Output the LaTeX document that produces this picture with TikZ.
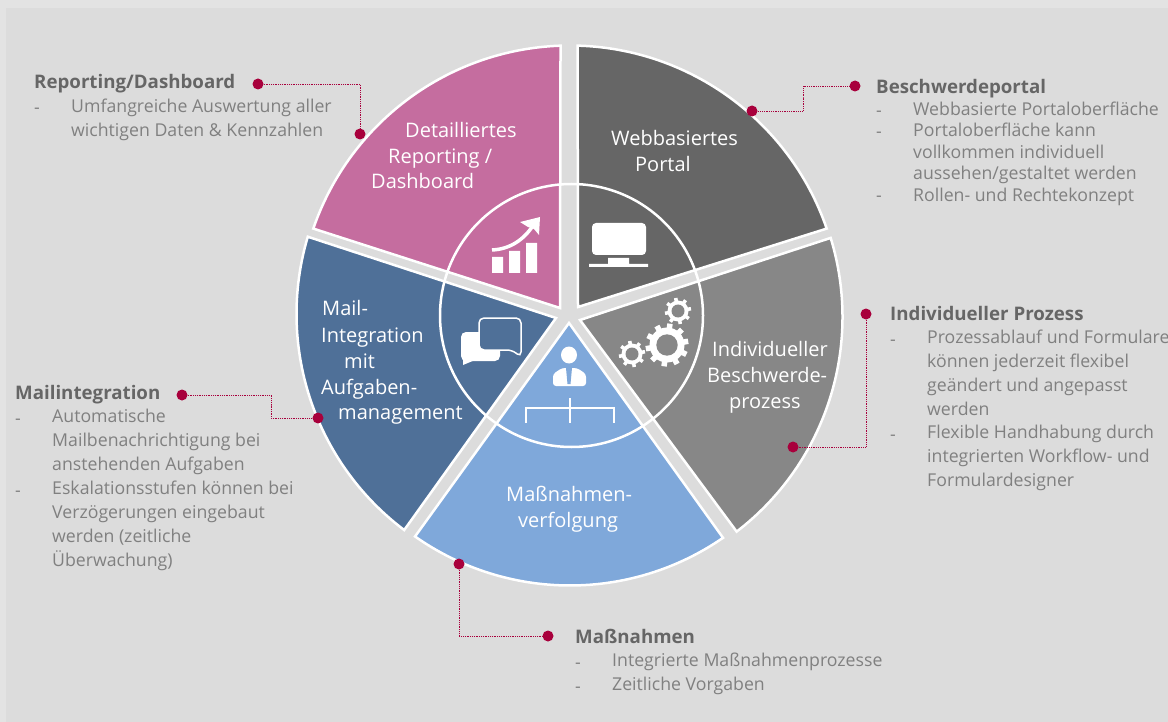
\documentclass[tikz,border=0pt]{standalone}
\usepackage{fontspec}
\setmainfont{Open Sans}
\definecolor{fondo}{HTML}{DCDCDC}
\definecolor{rand}{HTML}{E3E3E3}
\definecolor{rosa}{HTML}{C56D9F}
\definecolor{dunkel}{HTML}{666666}
\definecolor{mittel}{HTML}{878787}
\definecolor{blau}{HTML}{4F7098}
\definecolor{hell}{HTML}{7FA8DA}
\definecolor{rot}{HTML}{A8003C}
\tikzset{
	sektor/.style={draw=white,line width=2.5pt,line join=miter},
	wlabel/.style={anchor=base west,inner sep=0,text=white,font=\fontsize{20}{22}\selectfont},
	titel/.style={anchor=base west,inner sep=0,text=dunkel,font=\fontsize{18.7}{22}\selectfont\bfseries},
	strich/.style={anchor=base west,inner sep=0,text=black!50,font=\fontsize{17.7}{22}\selectfont},
	eintrag/.style={anchor=north west,inner sep=0,align=left,text=black!50,font=\fontsize{17.7}{24}\selectfont},
	punkt/.style={circle,fill=rot,inner sep=0,minimum size=11pt},
	leitung/.style={densely dotted,draw=rot,line width=.8pt},
}
\newcommand{\zahnrad}[6]{
	\foreach \w in {0,#6,...,359}
	\draw [white,line width=#5,shift={(#1)},y=1pt] (\w+10:#2-1)--(\w+10:#3);
	\fill [white] (#1)circle(#2);
	\fill [mittel] (#1)circle(#4);
}
\begin{document}
\begin{tikzpicture}[x=1pt,y=-1pt]
	\useasboundingbox (0,0) rectangle (1168,722);
	\fill [rand] (0,0) rectangle (1168,722);
	\fill [fondo] (6,8) rectangle (1168,722);
	\begin{scope}[shift={(570,316)},y=1pt]
	\filldraw [sektor,fill=rosa] (-10,8)--([shift={(0,-1)}]161:271.5) arc[start angle=161,end angle=92,radius=271.5]--cycle;
	\filldraw [sektor,fill=dunkel] (8,9)--([shift={(0,-1)}]88.4:271.5) arc[start angle=88.4,end angle=19,radius=271.5]--cycle;
	\filldraw [sektor,fill=mittel] (10,-4)--([shift={(2,-1)}]17:270.5) arc[start angle=17,end angle=-52.5,radius=270.5]--cycle;
	\filldraw [sektor,fill=hell] (-1,-7)--(234.9:269.5) arc[start angle=234.9,end angle=304.6,radius=269.5]--cycle;
	\filldraw [sektor,fill=blau] (-14,-2)--([shift={(-3,2)}]233:270.5) arc[start angle=233,end angle=163.4,radius=270.5]--cycle;
	\draw [white,line width=2.5pt] (1.5,.5)circle(131.5);
	\end{scope}
	\node [wlabel] (det1) at (405,138) {Detailliertes};
	\node [wlabel] (det2) at (388,164) {Reporting /};
	\node [wlabel] (det3) at (371,189) {Dashboard};
	\node [wlabel] (web1) at (611,146) {Webbasiertes};
	\node [wlabel] (web2) at (635,172) {Portal};
	\node [wlabel] (ind1) at (712,356) {Individueller};
	\node [wlabel] (ind2) at (707,382) {Beschwerde-};
	\node [wlabel] (ind3) at (729,408) {prozess};
	\node [wlabel] (mas1) at (506,501) {Maßnahmen-};
	\node [wlabel] (mas2) at (518,527) {verfolgung};
	\node [wlabel] (mai1) at (322,316) {Mail-};
	\node [wlabel] (mai2) at (321,342) {Integration};
	\node [wlabel] (mai3) at (344,368) {mit};
	\node [wlabel] (mai4) at (321,394) {Aufgaben-};
	\node [wlabel] (mai5) at (338,419) {management};
	\fill [white] (492,257) rectangle (503,273) (509,251) rectangle (520,273) (526,243) rectangle (537,273);
	\draw [white,line width=3.5pt] (492,250) .. controls (512,249) and (526,238) .. (536,221);
	\fill [white] (540,217)--(520,222)--(528,227)--(534,229)--(539,235)--cycle;
	\fill [white,rounded corners=4pt] (592,223) rectangle (646,255);
	\fill [white] (608,258) rectangle (629,264) (589,264) rectangle (648,267);
	\zahnrad{667,345}{17.5}{21.5}{10.7}{5.5pt}{36}
	\zahnrad{678,311}{10.5}{13.2}{6.5}{3.5pt}{45}
	\zahnrad{632,354}{10.5}{13.2}{6.5}{3.5pt}{45}
	\fill [white,rounded corners=5pt] (461,332) rectangle (500,361);
	\fill [white] (463,358)--(463,365)--(475,360)--cycle;
	\filldraw [draw=white,fill=blau,line width=1.5pt,rounded corners=5pt] (479,318)--(521,318)--(521,357)--(512,350)--(479,350)--cycle;
	\fill [white] (569,355) ellipse[x radius=8,y radius=8.5];
	\fill [white,rounded corners=3pt] (553,386)--(553,374)--(562,368)--(577,368)--(586,374)--(586,386)--cycle;
	\fill [hell] (566,368)--(572,368)--(570.5,384)--(567.5,384)--cycle;
	\draw [white,line width=2.5pt] (526,423)--(526,408)--(614,408)--(614,423) (570,398)--(570,423);
	\node [titel] (reptit) at (34,89) {Reporting/Dashboard};
	\node [strich] (repstr) at (34,114) {-};
	\node [eintrag] (reptxt) at (71,99) {Umfangreiche Auswertung aller\\wichtigen Daten \& Kennzahlen};
	\node [titel] (beschtit) at (876,94) {Beschwerdeportal};
	\node [strich] (beschstr1) at (876,117) {-};
	\node [eintrag] (beschtxt1) at (913,102) {Webbasierte Portaloberfläche};
	\node [strich] (beschstr2) at (876,138) {-};
	\node [eintrag,font=\fontsize{17.7}{21.5}\selectfont] (beschtxt2) at (913,123) {Portaloberfläche kann\\vollkommen individuell\\aussehen/gestaltet werden};
	\node [strich] (beschstr3) at (876,202) {-};
	\node [eintrag] (beschtxt3) at (913,188) {Rollen- und Rechtekonzept};
	\node [titel] (indtit) at (890,320) {Individueller Prozess};
	\node [strich] (indstr1) at (890,345) {-};
	\node [eintrag] (indtxt1) at (927,330) {Prozessablauf und Formulare\\können jederzeit flexibel\\geändert und angepasst\\werden};
	\node [strich] (indstr2) at (890,440) {-};
	\node [eintrag] (indtxt2) at (927,425) {Flexible Handhabung durch\\integrierten Workflow- und\\Formulardesigner};
	\node [titel] (maitit) at (15,399) {Mailintegration};
	\node [strich] (maistr1) at (15,424) {-};
	\node [eintrag] (maitxt1) at (52,409) {Automatische\\Mailbenachrichtigung bei\\anstehenden Aufgaben};
	\node [strich] (maistr2) at (15,496) {-};
	\node [eintrag] (maitxt2) at (52,481) {Eskalationsstufen können bei\\Verzögerungen eingebaut\\werden (zeitliche\\Überwachung)};
	\node [titel] (mastit) at (575,643) {Maßnahmen};
	\node [strich] (masstr1) at (575,668) {-};
	\node [eintrag] (mastxt1) at (612,653) {Integrierte Maßnahmenprozesse};
	\node [strich] (masstr2) at (575,692) {-};
	\node [eintrag] (mastxt2) at (612,677) {Zeitliche Vorgaben};
	\node [punkt] (repa) at (258,84) {};
	\node [punkt] (repb) at (360,134) {};
	\node [punkt] (bescha) at (855,86) {};
	\node [punkt] (beschb) at (752,111) {};
	\node [punkt] (inda) at (866,314) {};
	\node [punkt] (indb) at (793,447) {};
	\node [punkt] (maia) at (182,395) {};
	\node [punkt] (maib) at (318,418) {};
	\node [punkt] (masa) at (459,564) {};
	\node [punkt] (masb) at (548,636) {};
	\coordinate (beschk) at (803,98);
	\coordinate (maik) at (271,406);
	\draw [leitung] (repa)-|(repb);
	\draw [leitung] (bescha)-|(beschk)|-(beschb);
	\draw [leitung] (inda)|-(indb);
	\draw [leitung] (maia)-|(maik)|-(maib);
	\draw [leitung] (masa)|-(masb);
\end{tikzpicture}
\end{document}
